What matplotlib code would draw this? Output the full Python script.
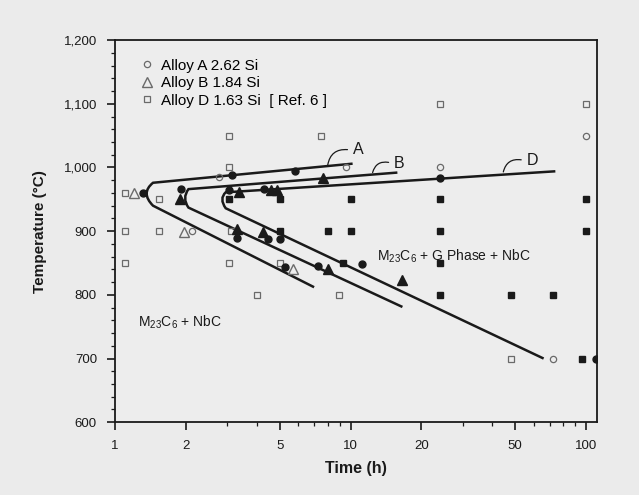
import matplotlib
matplotlib.use("Agg")
import matplotlib.pyplot as plt
from matplotlib.path import Path
from matplotlib.patches import PathPatch
from matplotlib.ticker import FixedLocator, MultipleLocator

plt.rcParams['font.family'] = ['Liberation Sans', 'DejaVu Sans']
plt.rcParams['mathtext.fontset'] = 'custom'
plt.rcParams['mathtext.rm'] = 'Liberation Sans'

# tick labels
x_ticks = [1, 2, 5, 10, 20, 50, 100]
x_minor = [3, 4, 6, 7, 8, 9, 30, 40, 60, 70, 80, 90]
y_ticks = [600, 700, 800, 900, 1000, 1100, 1200]
y_labels = ['600', '700', '800', '900', '1,000', '1,100', '1,200']

# open markers (no precipitate)
open_sq_t = [1.1, 1.1, 1.1, 1.53, 1.53, 3.05, 3.05, 3.1, 3.05, 4.0, 5.0, 7.5, 8.9, 24, 48, 100]
open_sq_T = [960, 900, 850, 950, 900, 1050, 1000, 900, 850, 800, 850, 1050, 800, 1100, 700, 1100]
open_circ_t = [2.75, 2.12, 9.6, 24, 100, 72]
open_circ_T = [985, 900, 1000, 1000, 1050, 700]
open_tri_t = [1.2, 1.97, 5.7]
open_tri_T = [960, 898, 840]

# filled markers (G phase present)
fill_circ_t = [1.32, 1.9, 3.15, 3.05, 3.3, 4.45, 5.0, 5.8, 4.3, 5.25, 7.25, 11.2, 24, 110]
fill_circ_T = [960, 966, 988, 964, 890, 888, 887, 995, 966, 843, 845, 848, 983, 700]
fill_tri_t = [1.88, 3.35, 3.3, 4.25, 4.6, 4.85, 7.6, 8.0, 16.6]
fill_tri_T = [951, 961, 904, 899, 964, 964, 983, 840, 823]
fill_sq_t = [3.05, 5.0, 10, 24, 100, 5.0, 8, 10, 24, 100, 9.3, 24, 24, 48, 72, 96]
fill_sq_T = [950, 950, 950, 950, 950, 900, 900, 900, 900, 900, 850, 850, 800, 800, 800, 700]

# C-curves: upper end, upper corner, nose, lower corner, lower end
curve_A_t = [10.2, 1.45, 1.28, 1.45, 7.0]
curve_A_T = [1006, 976, 960, 940, 812]
curve_B_t = [15.8, 2.05, 1.92, 2.05, 16.6]
curve_B_T = [992, 966, 952, 937, 781]
curve_D_t = [74, 2.95, 2.76, 2.95, 66]
curve_D_T = [994, 961, 951, 936, 700]

fig = plt.figure(figsize=(6.39, 4.95), dpi=100)
fig.patch.set_facecolor('#ebebeb')
ax = fig.add_axes([0.180, 0.147, 0.754, 0.772])
ax.set_facecolor('#ededed')

ax.set_xscale('log')
ax.set_xlim(1, 111)
ax.set_ylim(600, 1200)

ink = '#1a1a1a'
gray = '#6a6a6a'

# curves with rounded nose
for ct, cT in [(curve_A_t, curve_A_T), (curve_B_t, curve_B_T), (curve_D_t, curve_D_T)]:
    verts = list(zip(ct, cT))
    codes = [Path.MOVETO, Path.LINETO, Path.CURVE3, Path.CURVE3, Path.LINETO]
    ax.add_patch(PathPatch(Path(verts, codes), fill=False, lw=1.8, color=ink, zorder=2))

ax.plot(open_sq_t, open_sq_T, 's', ms=4, mfc='none', mec=gray, mew=0.9, ls='none', zorder=3)
ax.plot(open_circ_t, open_circ_T, 'o', ms=4.5, mfc='none', mec=gray, mew=0.9, ls='none', zorder=3)
ax.plot(open_tri_t, open_tri_T, '^', ms=6.5, mfc='none', mec=gray, mew=1.0, ls='none', zorder=3)
ax.plot(fill_circ_t, fill_circ_T, 'o', ms=5, color=ink, ls='none', zorder=4)
ax.plot(fill_tri_t, fill_tri_T, '^', ms=7, color=ink, ls='none', zorder=4)
ax.plot(fill_sq_t, fill_sq_T, 's', ms=4, color=ink, ls='none', zorder=4)

# curve labels with hooked leaders
for lab, p0, p1, tp in [('A', (8.0, 1004), (9.7, 1028), (10.2, 1028)),
                        ('B', (12.4, 992), (14.5, 1008), (15.2, 1007)),
                        ('D', (44.5, 993), (53.0, 1012), (56.0, 1011))]:
    ax.annotate('', xy=p1, xytext=p0,
                arrowprops=dict(arrowstyle='-', color=ink, lw=0.9,
                                connectionstyle='arc3,rad=-0.45', shrinkA=0, shrinkB=0))
    ax.text(tp[0], tp[1], lab, fontsize=11.5, color=ink, va='center', ha='left')

ax.text(1.25, 757, r'$\mathregular{M_{23}C_6}$ + NbC', fontsize=10, color=ink, va='center')
ax.text(13.0, 861, r'$\mathregular{M_{23}C_6}$ + G Phase + NbC', fontsize=10, color=ink, va='center')

# legend
h1, = ax.plot([], [], 'o', ms=4.5, mfc='none', mec=gray, mew=0.9)
h2, = ax.plot([], [], '^', ms=6.5, mfc='none', mec=gray, mew=1.0)
h3, = ax.plot([], [], 's', ms=4, mfc='none', mec=gray, mew=0.9)
ax.legend([h1, h2, h3], ['Alloy A 2.62 Si', 'Alloy B 1.84 Si', 'Alloy D 1.63 Si  [ Ref. 6 ]'],
          loc='upper left', bbox_to_anchor=(0.035, 0.975), frameon=False, fontsize=11,
          handlelength=0.8, handletextpad=0.5, labelspacing=0.22, borderaxespad=0.2)

# axes styling
ax.xaxis.set_major_locator(FixedLocator(x_ticks))
ax.xaxis.set_minor_locator(FixedLocator(x_minor))
ax.set_xticklabels([str(v) for v in x_ticks])
ax.set_yticks(y_ticks)
ax.set_yticklabels(y_labels)
ax.yaxis.set_minor_locator(MultipleLocator(20))
ax.tick_params(which='major', direction='out', length=6, width=1.2, labelsize=9.5,
               colors=ink, pad=7)
ax.tick_params(which='minor', direction='out', length=3, width=0.9, colors=ink)
for s in ax.spines.values():
    s.set_linewidth(1.3)
    s.set_color(ink)

ax.set_xlabel('Time (h)', fontsize=11.5, fontweight='bold', color=ink, labelpad=6)
ax.set_ylabel('Temperature (\u00b0C)', fontsize=11, fontweight='bold', color=ink, labelpad=12)

fig.savefig('out.png', dpi=100, facecolor=fig.get_facecolor())
